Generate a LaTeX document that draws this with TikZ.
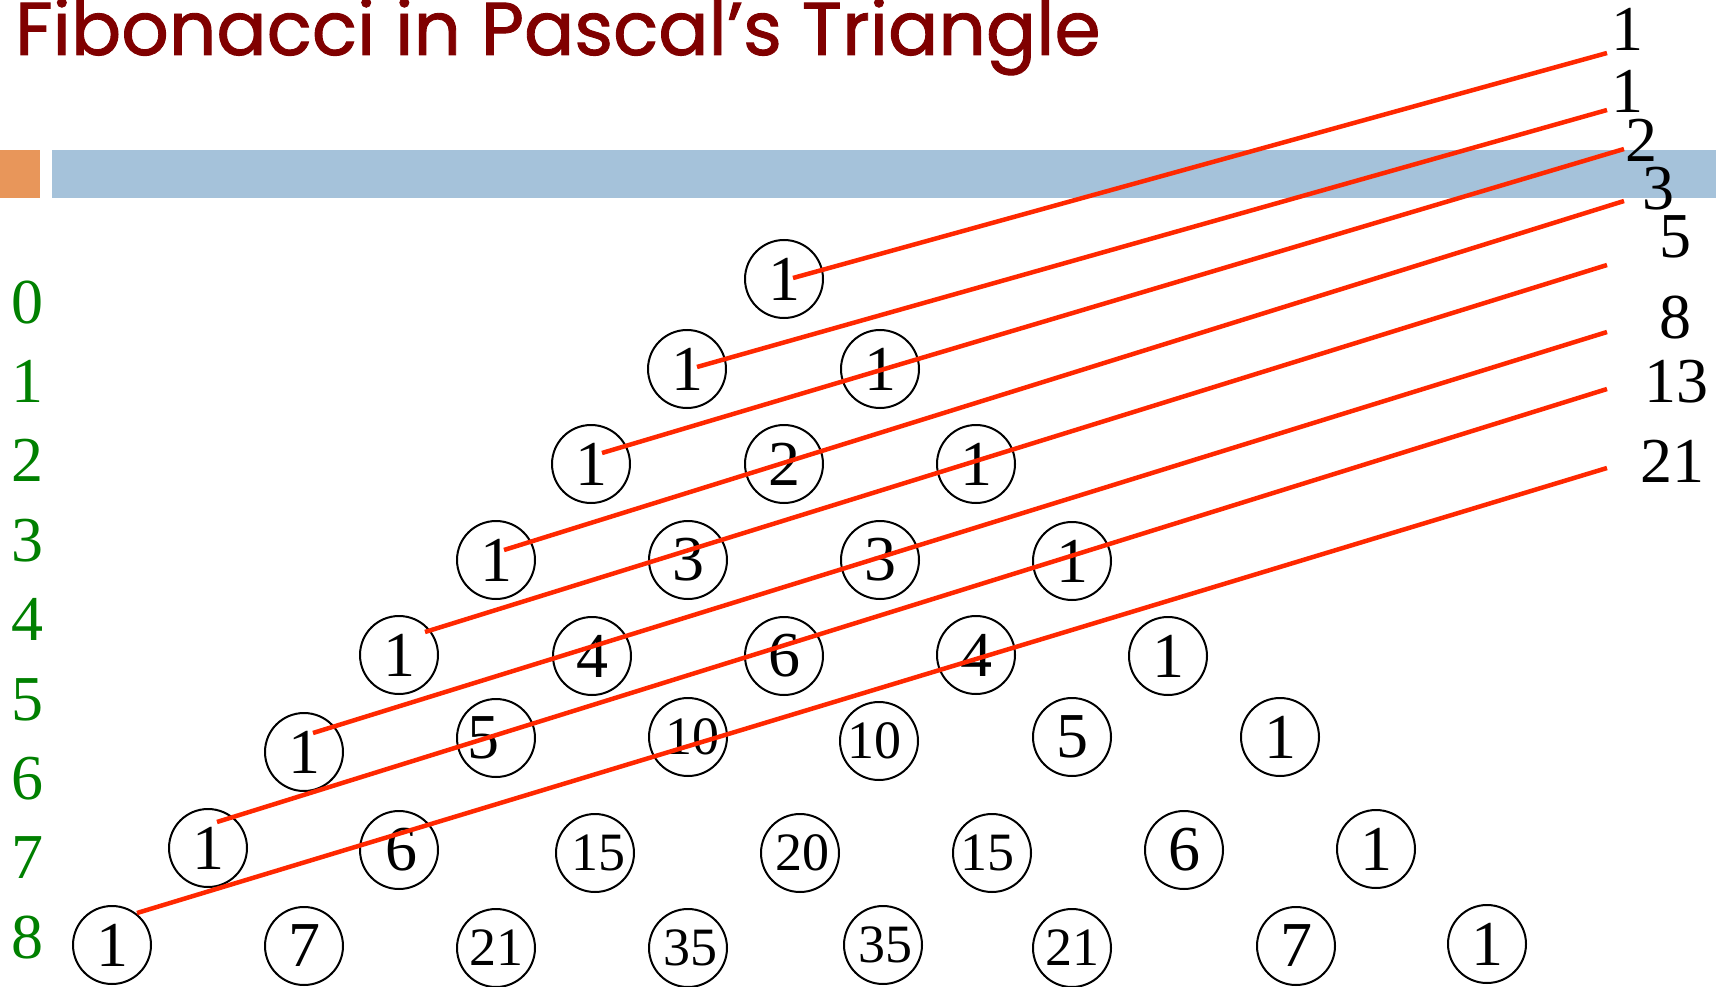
\documentclass[tikz,border=0pt]{standalone}
\usepackage{graphicx}
\usepackage{fontspec}
\setmainfont{Liberation Serif}
\newfontfamily\titlefont[FakeBold=1.2]{Poppins}
\definecolor{titlered}{RGB}{128,0,0}
\definecolor{barblue}{RGB}{165,194,218}
\definecolor{barorange}{RGB}{232,150,90}
\definecolor{fibred}{RGB}{255,40,0}
\definecolor{rowgreen}{RGB}{0,128,0}
\newcommand{\shx}[2]{\hspace{#1pt}#2\hspace{-#1pt}}
\begin{document}
\begin{tikzpicture}[x=1pt,y=-1pt,
  num/.style={draw=black, circle, line width=2pt, minimum size=78pt, inner sep=0pt, font=\fontsize{64}{64}\selectfont},
  numtwo/.style={num, font=\fontsize{54}{54}\selectfont},
  rowlab/.style={anchor=base, text=rowgreen, inner sep=0pt, font=\fontsize{64}{64}\selectfont},
  fiblab/.style={anchor=base, inner sep=0pt, font=\fontsize{64}{64}\selectfont},
  fibline/.style={draw=fibred, line width=4.5pt}]
\useasboundingbox (0,0) rectangle (1716,987);
% header bars
\fill[barorange] (0,150) rectangle (40,198);
\fill[barblue] (52,150) rectangle (1716,198);
% title
\node[anchor=base west, inner sep=0pt, text=titlered] (title) at (15,55)
  {\resizebox{1085pt}{57pt}{\titlefont Fibonacci in Pascal’s Triangle}};
% row labels
\foreach \k in {0,...,8} {
  \node[rowlab] (r\k) at (27,{323+79.4*\k}) {\k};
}
% Pascal triangle
\node[num] (n00) at (784,279) {1};
\node[num] (n10) at (687,369) {1};
\node[num] (n11) at (880,369) {1};
\node[num] (n20) at (591,464) {1};
\node[num] (n21) at (784,464) {2};
\node[num] (n22) at (976,464) {1};
\node[num] (n30) at (496,560) {1};
\node[num] (n31) at (688,560) {3};
\node[num] (n32) at (880,560) {3};
\node[num] (n33) at (1072,561) {1};
\node[num] (n40) at (399,655) {1};
\node[num] (n41) at (592,656) {4};
\node[num] (n42) at (784,656) {6};
\node[num] (n43) at (976,655) {4};
\node[num] (n44) at (1168,656) {1};
\node[num] (n50) at (304,752) {1};
\node[num] (n51) at (496,738) {\shx{-26}{5}};
\node[numtwo] (n52) at (688,737) {\shx{8}{10}};
\node[numtwo] (n53) at (879,741) {\shx{-9}{10}};
\node[num] (n54) at (1072,737) {5};
\node[num] (n55) at (1280,737) {1};
\node[num] (n60) at (208,848) {1};
\node[num] (n61) at (399,850) {\shx{4}{6}};
\node[numtwo] (n62) at (595,853) {\shx{7}{15}};
\node[numtwo] (n63) at (800,853) {\shx{5}{20}};
\node[numtwo] (n64) at (992,853) {\shx{-9}{15}};
\node[num] (n65) at (1184,850) {6};
\node[num] (n66) at (1376,849) {1};
\node[num] (n70) at (112,945) {1};
\node[num] (n71) at (304,946) {7};
\node[numtwo] (n72) at (496,948) {21};
\node[numtwo] (n73) at (688,948) {\shx{5}{35}};
\node[numtwo] (n74) at (883,945) {\shx{5}{35}};
\node[numtwo] (n75) at (1072,948) {21};
\node[num] (n76) at (1296,946) {7};
\node[num] (n77) at (1487,944) {1};
% Fibonacci sums
\node[fiblab] (f1) at (1627,51) {1};
\node[fiblab] (f2) at (1627,113) {1};
\node[fiblab] (f3) at (1641,162) {2};
\node[fiblab] (f4) at (1658,210) {3};
\node[fiblab] (f5) at (1675,258) {5};
\node[fiblab] (f6) at (1675,338) {8};
\node[fiblab] (f7) at (1676,402) {13};
\node[fiblab] (f8) at (1672,482) {21};
% diagonal lines
\coordinate (s1) at (793,278);  \coordinate (e1) at (1607,53);
\coordinate (s2) at (697,367);  \coordinate (e2) at (1607,110);
\coordinate (s3) at (602,453);  \coordinate (e3) at (1624,149);
\coordinate (s4) at (504,550);  \coordinate (e4) at (1624,201);
\coordinate (s5) at (425,632);  \coordinate (e5) at (1607,265);
\coordinate (s6) at (313,733);  \coordinate (e6) at (1607,332);
\coordinate (s7) at (217,822);  \coordinate (e7) at (1607,389);
\coordinate (s8) at (137,913);  \coordinate (e8) at (1607,468);
\foreach \i in {1,...,8} {
  \draw[fibline] (s\i) -- (e\i);
}
\end{tikzpicture}
\end{document}
